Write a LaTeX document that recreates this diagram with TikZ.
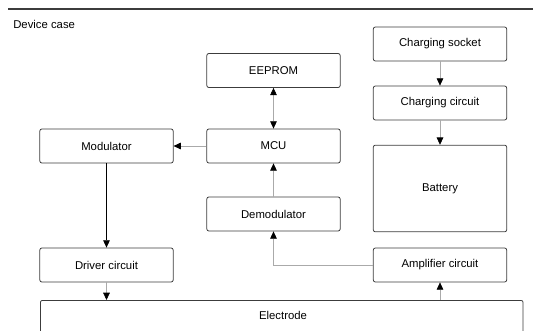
\documentclass[tikz,border=0pt]{standalone}
\usepackage{fontspec}
\setmainfont{Liberation Sans}
\usetikzlibrary{arrows.meta}
\definecolor{boxline}{RGB}{60,60,60}
\definecolor{wireline}{RGB}{170,170,170}
\tikzset{
  blockbox/.style={draw=boxline, rounded corners=1.5pt, line width=0.6pt, minimum width=100pt, minimum height=25.5pt, inner sep=0pt, font=\fontsize{8.5}{10}\selectfont},
  wire/.style={draw=wireline, line width=0.5pt, -{Triangle[length=5.5pt,width=5pt,color=black]}},
  dualwire/.style={wire, {Triangle[length=5.5pt,width=5pt,color=black]}-{Triangle[length=5.5pt,width=5pt,color=black]}}
}
\begin{document}
\begin{tikzpicture}[x=0.75pt,y=-0.75pt]
\useasboundingbox (0,0) rectangle (533,330);
% device case
\draw[boxline, line width=0.8pt] (8,9) -- (533,9);
\node[anchor=west, inner sep=0pt, font=\fontsize{8.5}{10}\selectfont] (caselabel) at (13,24) {Device case};
% blocks
\node[blockbox] (eeprom) at (273.5,70.5) {EEPROM};
\node[blockbox] (mcu) at (273.5,146) {MCU};
\node[blockbox] (demod) at (273.5,214) {Demodulator};
\node[blockbox] (mod) at (106.5,146) {Modulator};
\node[blockbox] (driver) at (106.5,265) {Driver circuit};
\node[blockbox] (socket) at (440,44) {Charging socket};
\node[blockbox] (charger) at (440,103) {Charging circuit};
\node[blockbox, minimum height=65pt] (battery) at (440,188.5) {Battery};
\node[blockbox] (amp) at (440,265) {Amplifier circuit};
\node[draw=boxline, rounded corners=1.5pt, line width=0.6pt, minimum width=362pt, minimum height=30pt, anchor=north west, inner sep=0pt] (electrode) at (40,300) {};
\node[anchor=base, inner sep=0pt, font=\fontsize{8.5}{10}\selectfont] (electrodelabel) at (283,319) {Electrode};
% connections
\draw[wire] (socket) -- (charger);
\draw[wire] (charger) -- (battery);
\draw[dualwire] (eeprom) -- (mcu);
\draw[wire] (mcu) -- (mod);
\draw[wire, draw=black] (mod) -- (driver);
\draw[wire] (demod) -- (mcu);
\draw[wire] (amp.west) -| (demod.south);
\draw[wire] (driver.south) -- (driver.south |- electrode.north);
\draw[wire] (amp.south |- electrode.north) -- (amp.south);
\end{tikzpicture}
\end{document}
